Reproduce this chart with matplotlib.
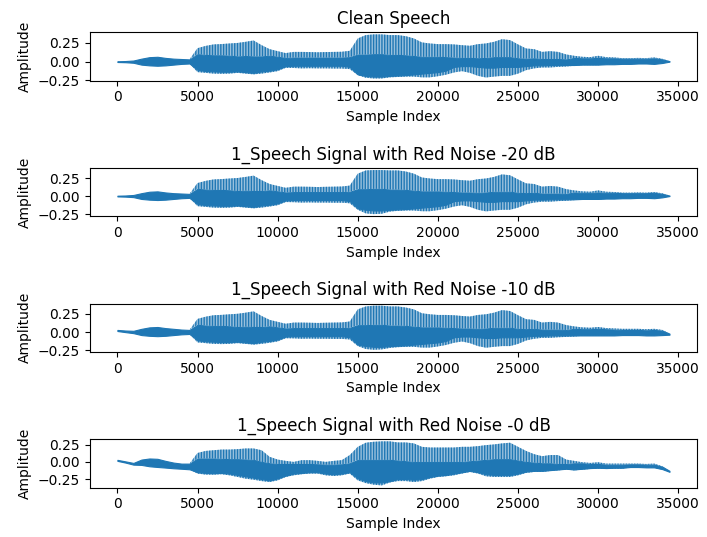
import matplotlib.pyplot as plt

# sample positions where the waveform envelope was read (every 500 samples, last sample 34450)
sample_idx = list(range(0, 34001, 500)) + [34450]

titles = ["Clean Speech",
          "1_Speech Signal with Red Noise -20 dB",
          "1_Speech Signal with Red Noise -10 dB",
          "1_Speech Signal with Red Noise -0 dB"]

# ---- clean speech: spike peaks (upper/lower) and dense body (core_hi/core_lo)
clean_upper = [0.005, 0.008, 0.015, 0.04, 0.06, 0.065, 0.05, 0.04, 0.035, 0.03,
               0.18, 0.21, 0.23, 0.235, 0.243, 0.25, 0.265, 0.283, 0.22, 0.167,
               0.14, 0.114, 0.13, 0.13, 0.128, 0.125, 0.128, 0.13, 0.132, 0.145,
               0.31, 0.355, 0.364, 0.364, 0.355, 0.355, 0.34, 0.31, 0.257, 0.243,
               0.234, 0.234, 0.23, 0.22, 0.212, 0.234, 0.243, 0.265, 0.3, 0.288,
               0.23, 0.176, 0.167, 0.13, 0.14, 0.13, 0.096, 0.078, 0.065, 0.06,
               0.078, 0.06, 0.056, 0.047, 0.047, 0.05, 0.047, 0.056, 0.038, 0.007]
clean_core_hi = [0.005, 0.008, 0.015, 0.04, 0.06, 0.065, 0.05, 0.04, 0.035, 0.03,
                 0.1, 0.09, 0.085, 0.085, 0.08, 0.07, 0.075, 0.07, 0.07, 0.08,
                 0.065, 0.05, 0.055, 0.055, 0.055, 0.055, 0.055, 0.055, 0.055, 0.06,
                 0.095, 0.095, 0.1, 0.1, 0.09, 0.09, 0.085, 0.075, 0.065, 0.065,
                 0.065, 0.06, 0.055, 0.05, 0.05, 0.045, 0.05, 0.06, 0.06, 0.06,
                 0.045, 0.04, 0.045, 0.035, 0.035, 0.035, 0.03, 0.05, 0.045, 0.045,
                 0.05, 0.045, 0.045, 0.04, 0.04, 0.04, 0.04, 0.045, 0.03, 0.007]
clean_core_lo = [-0.005, -0.008, -0.015, -0.04, -0.05, -0.055, -0.05, -0.04, -0.03, -0.025,
                 -0.11, -0.125, -0.13, -0.135, -0.135, -0.13, -0.14, -0.15, -0.13, -0.12,
                 -0.1, -0.06, -0.055, -0.055, -0.055, -0.055, -0.055, -0.055, -0.055, -0.07,
                 -0.17, -0.19, -0.2, -0.2, -0.19, -0.185, -0.18, -0.17, -0.16, -0.15,
                 -0.14, -0.12, -0.07, -0.06, -0.06, -0.07, -0.08, -0.08, -0.07, -0.07,
                 -0.07, -0.06, -0.05, -0.05, -0.045, -0.045, -0.045, -0.045, -0.04, -0.04,
                 -0.04, -0.035, -0.035, -0.03, -0.03, -0.025, -0.025, -0.03, -0.018, 0.0]
clean_lower = [-0.005, -0.008, -0.015, -0.04, -0.05, -0.055, -0.05, -0.04, -0.03, -0.025,
               -0.14, -0.15, -0.16, -0.163, -0.16, -0.15, -0.16, -0.17, -0.16, -0.145,
               -0.127, -0.083, -0.085, -0.09, -0.088, -0.09, -0.09, -0.092, -0.092, -0.1,
               -0.18, -0.216, -0.225, -0.225, -0.21, -0.205, -0.2, -0.2, -0.21, -0.21,
               -0.195, -0.175, -0.145, -0.127, -0.15, -0.19, -0.212, -0.2, -0.19, -0.19,
               -0.16, -0.114, -0.09, -0.078, -0.078, -0.07, -0.065, -0.056, -0.047, -0.047,
               -0.047, -0.04, -0.04, -0.035, -0.035, -0.03, -0.03, -0.035, -0.02, 0.0]

# ---- -20 dB red noise
n20_upper = [0.005, 0.008, 0.015, 0.04, 0.06, 0.065, 0.05, 0.04, 0.035, 0.03,
             0.18, 0.21, 0.23, 0.235, 0.243, 0.25, 0.265, 0.283, 0.22, 0.167,
             0.14, 0.114, 0.13, 0.13, 0.128, 0.125, 0.128, 0.13, 0.132, 0.145,
             0.31, 0.355, 0.36, 0.36, 0.355, 0.355, 0.34, 0.31, 0.257, 0.243,
             0.234, 0.234, 0.23, 0.22, 0.212, 0.234, 0.243, 0.265, 0.3, 0.288,
             0.23, 0.176, 0.167, 0.13, 0.14, 0.13, 0.096, 0.078, 0.065, 0.06,
             0.078, 0.06, 0.056, 0.047, 0.047, 0.05, 0.047, 0.056, 0.038, 0.007]
n20_core_hi = clean_core_hi[:]
n20_core_lo = clean_core_lo[:]
n20_lower = [-0.005, -0.008, -0.015, -0.04, -0.05, -0.055, -0.05, -0.04, -0.03, -0.025,
             -0.14, -0.15, -0.16, -0.163, -0.16, -0.15, -0.16, -0.17, -0.16, -0.145,
             -0.127, -0.083, -0.085, -0.09, -0.088, -0.09, -0.09, -0.092, -0.092, -0.1,
             -0.19, -0.24, -0.25, -0.245, -0.215, -0.205, -0.2, -0.2, -0.21, -0.21,
             -0.195, -0.175, -0.145, -0.127, -0.15, -0.19, -0.212, -0.2, -0.19, -0.19,
             -0.16, -0.114, -0.09, -0.078, -0.078, -0.07, -0.065, -0.056, -0.047, -0.047,
             -0.047, -0.04, -0.04, -0.035, -0.035, -0.03, -0.03, -0.035, -0.02, 0.0]

# ---- -10 dB red noise
n10_upper = [0.03, 0.022, 0.018, 0.045, 0.065, 0.07, 0.055, 0.045, 0.035, 0.03,
             0.18, 0.21, 0.23, 0.235, 0.243, 0.25, 0.265, 0.283, 0.22, 0.167,
             0.14, 0.114, 0.13, 0.13, 0.128, 0.125, 0.128, 0.13, 0.132, 0.145,
             0.31, 0.35, 0.36, 0.36, 0.35, 0.35, 0.335, 0.31, 0.257, 0.243,
             0.234, 0.234, 0.23, 0.22, 0.212, 0.234, 0.243, 0.265, 0.3, 0.288,
             0.23, 0.176, 0.167, 0.13, 0.14, 0.13, 0.096, 0.078, 0.065, 0.06,
             0.07, 0.055, 0.05, 0.045, 0.045, 0.045, 0.04, 0.045, 0.03, -0.02]
n10_core_hi = [0.03, 0.022, 0.018, 0.045, 0.065, 0.07, 0.055, 0.045, 0.035, 0.03,
               0.1, 0.09, 0.085, 0.085, 0.08, 0.07, 0.075, 0.07, 0.07, 0.08,
               0.065, 0.05, 0.055, 0.055, 0.055, 0.055, 0.055, 0.055, 0.055, 0.06,
               0.095, 0.095, 0.1, 0.1, 0.09, 0.09, 0.085, 0.075, 0.065, 0.065,
               0.065, 0.06, 0.055, 0.05, 0.05, 0.045, 0.05, 0.06, 0.06, 0.06,
               0.045, 0.04, 0.045, 0.035, 0.035, 0.035, 0.03, 0.045, 0.04, 0.04,
               0.045, 0.04, 0.035, 0.03, 0.03, 0.03, 0.025, 0.03, 0.02, -0.02]
n10_core_lo = [0.015, 0.0, -0.014, -0.04, -0.05, -0.055, -0.05, -0.04, -0.03, -0.025,
               -0.11, -0.125, -0.13, -0.135, -0.135, -0.13, -0.14, -0.15, -0.13, -0.12,
               -0.1, -0.06, -0.055, -0.055, -0.055, -0.055, -0.055, -0.055, -0.055, -0.07,
               -0.17, -0.19, -0.2, -0.2, -0.19, -0.185, -0.18, -0.17, -0.16, -0.15,
               -0.14, -0.12, -0.07, -0.06, -0.06, -0.07, -0.08, -0.08, -0.07, -0.07,
               -0.07, -0.06, -0.05, -0.05, -0.045, -0.045, -0.045, -0.045, -0.045, -0.045,
               -0.045, -0.045, -0.045, -0.04, -0.04, -0.04, -0.045, -0.045, -0.04, -0.035]
n10_lower = [0.015, 0.0, -0.014, -0.04, -0.05, -0.055, -0.05, -0.04, -0.03, -0.025,
             -0.14, -0.15, -0.16, -0.163, -0.16, -0.15, -0.16, -0.17, -0.16, -0.145,
             -0.127, -0.083, -0.085, -0.09, -0.088, -0.09, -0.09, -0.092, -0.092, -0.1,
             -0.19, -0.23, -0.24, -0.235, -0.215, -0.205, -0.2, -0.2, -0.21, -0.21,
             -0.195, -0.175, -0.145, -0.127, -0.15, -0.19, -0.212, -0.2, -0.19, -0.19,
             -0.16, -0.114, -0.09, -0.078, -0.078, -0.07, -0.065, -0.06, -0.05, -0.05,
             -0.05, -0.05, -0.05, -0.045, -0.045, -0.045, -0.05, -0.05, -0.045, -0.035]

# ---- 0 dB red noise (strong low-frequency drift)
n0_upper = [0.03, 0.008, -0.015, 0.034, 0.05, 0.045, 0.015, -0.01, -0.025, -0.025,
            0.13, 0.16, 0.17, 0.18, 0.18, 0.186, 0.196, 0.196, 0.17, 0.074,
            0.034, 0.015, 0.0, 0.025, 0.025, 0.015, 0.0, 0.015, 0.025, 0.1,
            0.22, 0.28, 0.294, 0.3, 0.3, 0.284, 0.284, 0.27, 0.22, 0.21,
            0.21, 0.21, 0.21, 0.22, 0.22, 0.23, 0.245, 0.255, 0.27, 0.28,
            0.22, 0.16, 0.113, 0.083, 0.1, 0.1, 0.034, 0.015, -0.005, -0.015,
            -0.005, -0.025, -0.025, -0.025, -0.025, -0.025, -0.03, -0.025, -0.064, -0.13]
n0_core_hi = [0.03, 0.008, -0.015, 0.034, 0.05, 0.045, 0.015, -0.01, -0.025, -0.025,
              0.05, 0.05, 0.05, 0.045, 0.04, 0.04, 0.035, 0.03, 0.0, -0.02,
              -0.03, -0.03, -0.03, -0.03, -0.03, -0.035, -0.04, -0.04, -0.035, -0.02,
              0.03, 0.03, 0.03, 0.03, 0.03, 0.02, 0.01, 0.0, 0.0, 0.0,
              0.0, 0.0, 0.0, 0.0, 0.01, 0.02, 0.03, 0.04, 0.04, 0.04,
              0.02, 0.0, -0.01, -0.02, -0.02, -0.03, -0.03, -0.02, -0.02, -0.03,
              -0.03, -0.04, -0.04, -0.04, -0.035, -0.035, -0.04, -0.04, -0.07, -0.13]
n0_core_lo = [0.015, -0.01, -0.04, -0.044, -0.064, -0.074, -0.083, -0.093, -0.1, -0.108,
              -0.15, -0.16, -0.165, -0.16, -0.17, -0.19, -0.21, -0.23, -0.25, -0.27,
              -0.24, -0.2, -0.17, -0.16, -0.15, -0.15, -0.17, -0.18, -0.17, -0.15,
              -0.24, -0.28, -0.3, -0.3, -0.28, -0.25, -0.25, -0.26, -0.25, -0.22,
              -0.2, -0.19, -0.17, -0.15, -0.13, -0.15, -0.18, -0.19, -0.19, -0.19,
              -0.17, -0.14, -0.13, -0.13, -0.12, -0.11, -0.1, -0.11, -0.1, -0.09,
              -0.085, -0.09, -0.085, -0.085, -0.075, -0.075, -0.08, -0.08, -0.105, -0.145]
n0_lower = [0.015, -0.01, -0.04, -0.044, -0.064, -0.074, -0.083, -0.093, -0.1, -0.108,
            -0.17, -0.186, -0.186, -0.18, -0.196, -0.22, -0.245, -0.26, -0.28, -0.294,
            -0.27, -0.22, -0.196, -0.18, -0.17, -0.17, -0.196, -0.206, -0.196, -0.17,
            -0.27, -0.31, -0.333, -0.343, -0.3, -0.28, -0.28, -0.294, -0.28, -0.245,
            -0.22, -0.21, -0.196, -0.17, -0.147, -0.17, -0.21, -0.22, -0.22, -0.22,
            -0.196, -0.16, -0.147, -0.147, -0.132, -0.123, -0.113, -0.123, -0.113, -0.103,
            -0.098, -0.103, -0.098, -0.098, -0.083, -0.083, -0.088, -0.088, -0.113, -0.145]

panels = [
    (clean_upper, clean_core_hi, clean_core_lo, clean_lower),
    (n20_upper, n20_core_hi, n20_core_lo, n20_lower),
    (n10_upper, n10_core_hi, n10_core_lo, n10_lower),
    (n0_upper, n0_core_hi, n0_core_lo, n0_lower),
]

blue = "#1f77b4"
light = (0.122, 0.467, 0.706, 0.45)

plt.rcParams['hatch.linewidth'] = 1.0
fig, axes = plt.subplots(4, 1, figsize=(7.07, 5.37), dpi=100)
fig.subplots_adjust(left=0.127, right=0.986, top=0.94, bottom=0.092, hspace=1.8)

for ax, title, (upper, core_hi, core_lo, lower) in zip(axes, titles, panels):
    # thin pitch spikes above and below the dense body
    ax.fill_between(sample_idx, core_hi, upper, facecolor=light, edgecolor=blue,
                    hatch="||||||", linewidth=0)
    ax.fill_between(sample_idx, lower, core_lo, facecolor=light, edgecolor=blue,
                    hatch="||||||", linewidth=0)
    # dense body of the waveform
    ax.fill_between(sample_idx, core_lo, core_hi, facecolor=blue, edgecolor=blue,
                    linewidth=0.8)
    ax.set_title(title)
    ax.set_xlabel("Sample Index")
    ax.set_ylabel("Amplitude")
    ax.set_xticks(range(0, 35001, 5000))

fig.savefig("out.png", dpi=100)
